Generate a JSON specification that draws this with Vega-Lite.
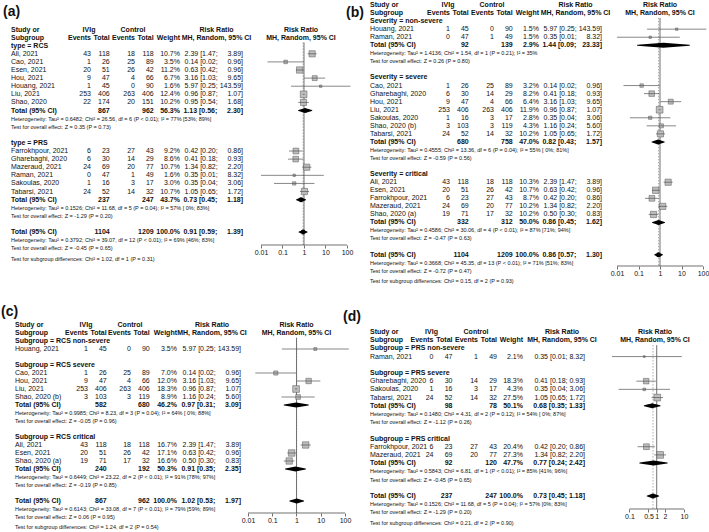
{
"$schema":"https://vega.github.io/schema/vega-lite/v6.json",
"padding":0,
"background":"white",
"config":{"view":{"stroke":null},"legend":{"disable":true},"text":{"font":"Liberation Sans","fontSize":7,"baseline":"middle","color":"#111"},
"axis":{"labelFont":"Liberation Sans","labelFontSize":7,"labelColor":"#111","tickColor":"#333","tickWidth":0.7,"tickSize":3,"labelPadding":0.5,"grid":false,"domain":false,"labelFlush":false,"labelOverlap":false}},
"datasets":{
"cols":[{"col":"e1","cx":2},{"col":"n1","cx":3},{"col":"e2","cx":4},{"col":"n2","cx":5}],
"hdr":[{"c":1,"r":0,"t":"Study or"},{"c":8,"r":0,"t":"IVIg"},{"c":9,"r":0,"t":"Control"},{"c":10,"r":0,"t":"Risk Ratio"},{"c":11,"r":0,"t":"Risk Ratio"},{"c":1,"r":1,"t":"Subgroup"},{"c":2,"r":1,"t":"Events"},{"c":3,"r":1,"t":"Total"},{"c":4,"r":1,"t":"Events"},{"c":5,"r":1,"t":"Total"},{"c":6,"r":1,"t":"Weight"},{"c":10,"r":1,"t":"MH, Random, 95% CI"},{"c":11,"r":1,"t":"MH, Random, 95% CI"}],
"a":[
{"k":"lab","c":0,"r":-2.1,"t":"(a)"},
{"k":"g","r":2,"t":"type = RCS"},
{"k":"s","r":3,"t":"Ali, 2021","e1":43,"n1":118,"e2":18,"n2":118,"w":0.107,"ci":"2.39 [1.47; \u2007\u20073.89]","est":2.39,"lo":1.47,"hi":3.89},
{"k":"s","r":4,"t":"Cao, 2021","e1":1,"n1":26,"e2":25,"n2":89,"w":0.035,"ci":"0.14 [0.02; \u2007\u20070.96]","est":0.14,"lo":0.02,"hi":0.96},
{"k":"s","r":5,"t":"Esen, 2021","e1":20,"n1":51,"e2":26,"n2":42,"w":0.112,"ci":"0.63 [0.42; \u2007\u20070.96]","est":0.63,"lo":0.42,"hi":0.96},
{"k":"s","r":6,"t":"Hou, 2021","e1":9,"n1":47,"e2":4,"n2":66,"w":0.067,"ci":"3.16 [1.03; \u2007\u20079.65]","est":3.16,"lo":1.03,"hi":9.65},
{"k":"s","r":7,"t":"Houang, 2021","e1":1,"n1":45,"e2":0,"n2":90,"w":0.016,"ci":"5.97 [0.25; 143.59]","est":5.97,"lo":0.25,"hi":143.59},
{"k":"s","r":8,"t":"Liu, 2021","e1":253,"n1":406,"e2":263,"n2":406,"w":0.124,"ci":"0.96 [0.87; \u2007\u20071.07]","est":0.96,"lo":0.87,"hi":1.07},
{"k":"s","r":9,"t":"Shao, 2020","e1":22,"n1":174,"e2":20,"n2":151,"w":0.102,"ci":"0.95 [0.54; \u2007\u20071.68]","est":0.95,"lo":0.54,"hi":1.68},
{"k":"t","r":10,"t":"Total (95% CI)","n1":867,"n2":962,"w":0.563,"ci":"1.13 [0.56; \u2007\u20072.30]","est":1.13,"lo":0.56,"hi":2.30},
{"k":"n","r":11,"t":"Heterogeneity: Tau² = 0.6482; Chi² = 26.56, df = 6 (P < 0.01); I² = 77% [53%; 89%]"},
{"k":"n","r":12,"t":"Test for overall effect: Z = 0.35 (P = 0.73)"},
{"k":"g","r":14,"t":"type = PRS"},
{"k":"s","r":15,"t":"Farrokhpour, 2021","e1":6,"n1":23,"e2":27,"n2":43,"w":0.092,"ci":"0.42 [0.20; \u2007\u20070.86]","est":0.42,"lo":0.20,"hi":0.86},
{"k":"s","r":16,"t":"Gharebaghi, 2020","e1":6,"n1":30,"e2":14,"n2":29,"w":0.086,"ci":"0.41 [0.18; \u2007\u20070.93]","est":0.41,"lo":0.18,"hi":0.93},
{"k":"s","r":17,"t":"Mazeraud, 2021","e1":24,"n1":69,"e2":20,"n2":77,"w":0.107,"ci":"1.34 [0.82; \u2007\u20072.20]","est":1.34,"lo":0.82,"hi":2.20},
{"k":"s","r":18,"t":"Raman, 2021","e1":0,"n1":47,"e2":1,"n2":49,"w":0.016,"ci":"0.35 [0.01; \u2007\u20078.32]","est":0.35,"lo":0.01,"hi":8.32},
{"k":"s","r":19,"t":"Sakoulas, 2020","e1":1,"n1":16,"e2":3,"n2":17,"w":0.030,"ci":"0.35 [0.04; \u2007\u20073.06]","est":0.35,"lo":0.04,"hi":3.06},
{"k":"s","r":20,"t":"Tabarsi, 2021","e1":24,"n1":52,"e2":14,"n2":32,"w":0.107,"ci":"1.05 [0.65; \u2007\u20071.72]","est":1.05,"lo":0.65,"hi":1.72},
{"k":"t","r":21,"t":"Total (95% CI)","n1":237,"n2":247,"w":0.437,"ci":"0.73 [0.45; \u2007\u20071.18]","est":0.73,"lo":0.45,"hi":1.18},
{"k":"n","r":22,"t":"Heterogeneity: Tau² = 0.1526; Chi² = 11.68, df = 5 (P = 0.04); I² = 57% [ 0%; 83%]"},
{"k":"n","r":23,"t":"Test for overall effect: Z = -1.29 (P = 0.20)"},
{"k":"t","r":25,"ov":true,"t":"Total (95% CI)","n1":1104,"n2":1209,"w":1,"ci":"0.91 [0.59; \u2007\u20071.39]","est":0.91,"lo":0.59,"hi":1.39},
{"k":"n","r":26,"t":"Heterogeneity: Tau² = 0.3792; Chi² = 39.07, df = 12 (P < 0.01); I² = 69% [46%; 83%]"},
{"k":"n","r":27,"t":"Test for overall effect: Z = -0.45 (P = 0.65)"},
{"k":"n","r":28.3,"t":"Test for subgroup differences: Chi² = 1.02, df = 1 (P = 0.31)"}
],
"b":[
{"k":"lab","c":0,"r":1,"t":"(b)"},
{"k":"g","r":2,"t":"Severity = non-severe"},
{"k":"s","r":3,"t":"Houang, 2021","e1":1,"n1":45,"e2":0,"n2":90,"w":0.015,"ci":"5.97 [0.25; 143.59]","est":5.97,"lo":0.25,"hi":143.59},
{"k":"s","r":4,"t":"Raman, 2021","e1":0,"n1":47,"e2":1,"n2":49,"w":0.015,"ci":"0.35 [0.01; \u2007\u20078.32]","est":0.35,"lo":0.01,"hi":8.32},
{"k":"t","r":5,"t":"Total (95% CI)","n1":92,"n2":139,"w":0.029,"ci":"1.44 [0.09; \u200723.33]","est":1.44,"lo":0.09,"hi":23.33},
{"k":"n","r":6,"t":"Heterogeneity: Tau² = 1.4136; Chi² = 1.54, df = 1 (P = 0.21); I² = 35%"},
{"k":"n","r":7,"t":"Test for overall effect: Z = 0.26 (P = 0.80)"},
{"k":"g","r":9,"t":"Severity = severe"},
{"k":"s","r":10,"t":"Cao, 2021","e1":1,"n1":26,"e2":25,"n2":89,"w":0.032,"ci":"0.14 [0.02; \u2007\u20070.96]","est":0.14,"lo":0.02,"hi":0.96},
{"k":"s","r":11,"t":"Gharebaghi, 2020","e1":6,"n1":30,"e2":14,"n2":29,"w":0.082,"ci":"0.41 [0.18; \u2007\u20070.93]","est":0.41,"lo":0.18,"hi":0.93},
{"k":"s","r":12,"t":"Hou, 2021","e1":9,"n1":47,"e2":4,"n2":66,"w":0.064,"ci":"3.16 [1.03; \u2007\u20079.65]","est":3.16,"lo":1.03,"hi":9.65},
{"k":"s","r":13,"t":"Liu, 2021","e1":253,"n1":406,"e2":263,"n2":406,"w":0.119,"ci":"0.96 [0.87; \u2007\u20071.07]","est":0.96,"lo":0.87,"hi":1.07},
{"k":"s","r":14,"t":"Sakoulas, 2020","e1":1,"n1":16,"e2":3,"n2":17,"w":0.028,"ci":"0.35 [0.04; \u2007\u20073.06]","est":0.35,"lo":0.04,"hi":3.06},
{"k":"s","r":15,"t":"Shao, 2020 (b)","e1":3,"n1":103,"e2":3,"n2":119,"w":0.043,"ci":"1.16 [0.24; \u2007\u20075.60]","est":1.16,"lo":0.24,"hi":5.60},
{"k":"s","r":16,"t":"Tabarsi, 2021","e1":24,"n1":52,"e2":14,"n2":32,"w":0.102,"ci":"1.05 [0.65; \u2007\u20071.72]","est":1.05,"lo":0.65,"hi":1.72},
{"k":"t","r":17,"t":"Total (95% CI)","n1":680,"n2":758,"w":0.470,"ci":"0.82 [0.43; \u2007\u20071.57]","est":0.82,"lo":0.43,"hi":1.57},
{"k":"n","r":18,"t":"Heterogeneity: Tau² = 0.4555; Chi² = 13.36, df = 6 (P = 0.04); I² = 55% [ 0%; 81%]"},
{"k":"n","r":19,"t":"Test for overall effect: Z = -0.59 (P = 0.56)"},
{"k":"g","r":21,"t":"Severity = critical"},
{"k":"s","r":22,"t":"Ali, 2021","e1":43,"n1":118,"e2":18,"n2":118,"w":0.103,"ci":"2.39 [1.47; \u2007\u20073.89]","est":2.39,"lo":1.47,"hi":3.89},
{"k":"s","r":23,"t":"Esen, 2021","e1":20,"n1":51,"e2":26,"n2":42,"w":0.107,"ci":"0.63 [0.42; \u2007\u20070.96]","est":0.63,"lo":0.42,"hi":0.96},
{"k":"s","r":24,"t":"Farrokhpour, 2021","e1":6,"n1":23,"e2":27,"n2":43,"w":0.087,"ci":"0.42 [0.20; \u2007\u20070.86]","est":0.42,"lo":0.20,"hi":0.86},
{"k":"s","r":25,"t":"Mazeraud, 2021","e1":24,"n1":69,"e2":20,"n2":77,"w":0.102,"ci":"1.34 [0.82; \u2007\u20072.20]","est":1.34,"lo":0.82,"hi":2.20},
{"k":"s","r":26,"t":"Shao, 2020 (a)","e1":19,"n1":71,"e2":17,"n2":32,"w":0.102,"ci":"0.50 [0.30; \u2007\u20070.83]","est":0.50,"lo":0.30,"hi":0.83},
{"k":"t","r":27,"t":"Total (95% CI)","n1":332,"n2":312,"w":0.500,"ci":"0.86 [0.45; \u2007\u20071.62]","est":0.86,"lo":0.45,"hi":1.62},
{"k":"n","r":28,"t":"Heterogeneity: Tau² = 0.4586; Chi² = 30.06, df = 4 (P < 0.01); I² = 87% [71%; 94%]"},
{"k":"n","r":29,"t":"Test for overall effect: Z = -0.47 (P = 0.63)"},
{"k":"t","r":31,"ov":true,"t":"Total (95% CI)","n1":1104,"n2":1209,"w":1,"ci":"0.86 [0.57; \u2007\u20071.30]","est":0.86,"lo":0.57,"hi":1.30},
{"k":"n","r":32,"t":"Heterogeneity: Tau² = 0.3668; Chi² = 45.35, df = 13 (P < 0.01); I² = 71% [51%; 83%]"},
{"k":"n","r":33,"t":"Test for overall effect: Z = -0.72 (P = 0.47)"},
{"k":"n","r":34.3,"t":"Test for subgroup differences: Chi² = 0.15, df = 2 (P = 0.93)"}
],
"c":[
{"k":"lab","c":0,"r":-1.6,"t":"(c)"},
{"k":"g","r":2,"t":"Subgroup = RCS non-severe"},
{"k":"s","r":3,"t":"Houang, 2021","e1":1,"n1":45,"e2":0,"n2":90,"w":0.035,"ci":"5.97 [0.25; 143.59]","est":5.97,"lo":0.25,"hi":143.59},
{"k":"g","r":5,"t":"Subgroup = RCS severe"},
{"k":"s","r":6,"t":"Cao, 2021","e1":1,"n1":26,"e2":25,"n2":89,"w":0.070,"ci":"0.14 [0.02; \u2007\u20070.96]","est":0.14,"lo":0.02,"hi":0.96},
{"k":"s","r":7,"t":"Hou, 2021","e1":9,"n1":47,"e2":4,"n2":66,"w":0.120,"ci":"3.16 [1.03; \u2007\u20079.65]","est":3.16,"lo":1.03,"hi":9.65},
{"k":"s","r":8,"t":"Liu, 2021","e1":253,"n1":406,"e2":263,"n2":406,"w":0.183,"ci":"0.96 [0.87; \u2007\u20071.07]","est":0.96,"lo":0.87,"hi":1.07},
{"k":"s","r":9,"t":"Shao, 2020 (b)","e1":3,"n1":103,"e2":3,"n2":119,"w":0.089,"ci":"1.16 [0.24; \u2007\u20075.60]","est":1.16,"lo":0.24,"hi":5.60},
{"k":"t","r":10,"t":"Total (95% CI)","n1":582,"n2":680,"w":0.462,"ci":"0.97 [0.31; \u2007\u20073.09]","est":0.97,"lo":0.31,"hi":3.09},
{"k":"n","r":11,"t":"Heterogeneity: Tau² = 0.9985; Chi² = 8.23, df = 3 (P = 0.04); I² = 64% [ 0%; 88%]"},
{"k":"n","r":12,"t":"Test for overall effect: Z = -0.05 (P = 0.96)"},
{"k":"g","r":14,"t":"Subgroup = RCS critical"},
{"k":"s","r":15,"t":"Ali, 2021","e1":43,"n1":118,"e2":18,"n2":118,"w":0.167,"ci":"2.39 [1.47; \u2007\u20073.89]","est":2.39,"lo":1.47,"hi":3.89},
{"k":"s","r":16,"t":"Esen, 2021","e1":20,"n1":51,"e2":26,"n2":42,"w":0.171,"ci":"0.63 [0.42; \u2007\u20070.96]","est":0.63,"lo":0.42,"hi":0.96},
{"k":"s","r":17,"t":"Shao, 2020 (a)","e1":19,"n1":71,"e2":17,"n2":32,"w":0.166,"ci":"0.50 [0.30; \u2007\u20070.83]","est":0.50,"lo":0.30,"hi":0.83},
{"k":"t","r":18,"t":"Total (95% CI)","n1":240,"n2":192,"w":0.503,"ci":"0.91 [0.35; \u2007\u20072.35]","est":0.91,"lo":0.35,"hi":2.35},
{"k":"n","r":19,"t":"Heterogeneity: Tau² = 0.6449; Chi² = 23.22, df = 2 (P < 0.01); I² = 91% [78%; 97%]"},
{"k":"n","r":20,"t":"Test for overall effect: Z = -0.19 (P = 0.85)"},
{"k":"t","r":22,"ov":true,"t":"Total (95% CI)","n1":867,"n2":962,"w":1,"ci":"1.02 [0.53; \u2007\u20071.97]","est":1.02,"lo":0.53,"hi":1.97},
{"k":"n","r":23,"t":"Heterogeneity: Tau² = 0.6143; Chi² = 33.08, df = 7 (P < 0.01); I² = 79% [59%; 89%]"},
{"k":"n","r":24,"t":"Test for overall effect: Z = 0.06 (P = 0.95)"},
{"k":"n","r":25.3,"t":"Test for subgroup differences: Chi² = 1.24, df = 2 (P = 0.54)"}
],
"d":[
{"k":"lab","c":0,"r":-1.83,"t":"(d)"},
{"k":"g","r":2,"t":"Subgroup = PRS non-severe"},
{"k":"s","r":3,"t":"Raman, 2021","e1":0,"n1":47,"e2":1,"n2":49,"w":0.021,"ci":"0.35 [0.01; 8.32]","est":0.35,"lo":0.01,"hi":8.32},
{"k":"g","r":5,"t":"Subgroup = PRS severe"},
{"k":"s","r":6,"t":"Gharebaghi, 2020","e1":6,"n1":30,"e2":14,"n2":29,"w":0.183,"ci":"0.41 [0.18; 0.93]","est":0.41,"lo":0.18,"hi":0.93},
{"k":"s","r":7,"t":"Sakoulas, 2020","e1":1,"n1":16,"e2":3,"n2":17,"w":0.043,"ci":"0.35 [0.04; 3.06]","est":0.35,"lo":0.04,"hi":3.06},
{"k":"s","r":8,"t":"Tabarsi, 2021","e1":24,"n1":52,"e2":14,"n2":32,"w":0.275,"ci":"1.05 [0.65; 1.72]","est":1.05,"lo":0.65,"hi":1.72},
{"k":"t","r":9,"t":"Total (95% CI)","n1":98,"n2":78,"w":0.501,"ci":"0.68 [0.35; 1.33]","est":0.68,"lo":0.35,"hi":1.33},
{"k":"n","r":10,"t":"Heterogeneity: Tau² = 0.1480; Chi² = 4.31, df = 2 (P = 0.12); I² = 54% [ 0%; 87%]"},
{"k":"n","r":11,"t":"Test for overall effect: Z = -1.12 (P = 0.26)"},
{"k":"g","r":13,"t":"Subgroup = PRS critical"},
{"k":"s","r":14,"t":"Farrokhpour, 2021","e1":6,"n1":23,"e2":27,"n2":43,"w":0.204,"ci":"0.42 [0.20; 0.86]","est":0.42,"lo":0.20,"hi":0.86},
{"k":"s","r":15,"t":"Mazeraud, 2021","e1":24,"n1":69,"e2":20,"n2":77,"w":0.273,"ci":"1.34 [0.82; 2.20]","est":1.34,"lo":0.82,"hi":2.20},
{"k":"t","r":16,"t":"Total (95% CI)","n1":92,"n2":120,"w":0.477,"ci":"0.77 [0.24; 2.42]","est":0.77,"lo":0.24,"hi":2.42},
{"k":"n","r":17,"t":"Heterogeneity: Tau² = 0.5843; Chi² = 6.81, df = 1 (P < 0.01); I² = 85% [41%; 96%]"},
{"k":"n","r":18,"t":"Test for overall effect: Z = -0.45 (P = 0.65)"},
{"k":"t","r":20,"ov":true,"t":"Total (95% CI)","n1":237,"n2":247,"w":1,"ci":"0.73 [0.45; 1.18]","est":0.73,"lo":0.45,"hi":1.18},
{"k":"n","r":21,"t":"Heterogeneity: Tau² = 0.1526; Chi² = 11.68, df = 5 (P = 0.04); I² = 57% [0%; 83%]"},
{"k":"n","r":22,"t":"Test for overall effect: Z = -1.29 (P = 0.20)"},
{"k":"n","r":23.3,"t":"Test for subgroup differences: Chi² = 0.21, df = 2 (P = 0.90)"}
]
},
"columns":4,
"spacing":0,
"bounds":"flush",
"concat":[
{"width":248,"height":296,"data":{"name":"a"},
"encoding":{"y":{"field":"r","type":"quantitative","scale":{"domain":[0,28],"range":[29.5,256.3],"nice":false,"zero":false},"axis":null}},
"layer":[
{"transform":[{"filter":"datum.k=='lab'"}],"mark":{"type":"text","align":"left","fontWeight":"bold","fontSize":14},"encoding":{"x":{"field":"c","type":"quantitative","scale":{"domain":[0,1,2,3,4,5,6,7,8,9,10,11],"range":[3,11,91,109.7,135,153.7,180,243,89,133,216.5,301],"nice":false,"zero":false},"axis":null},"text":{"field":"t","type":"nominal"}}},
{"data":{"name":"hdr"},"transform":[{"filter":"datum.c==1"}],"mark":{"type":"text","align":"left","fontWeight":"bold"},"encoding":{"x":{"field":"c","type":"quantitative"},"text":{"field":"t","type":"nominal"}}},
{"data":{"name":"hdr"},"transform":[{"filter":"datum.c>=2 && datum.c<=7"}],"mark":{"type":"text","align":"right","fontWeight":"bold"},"encoding":{"x":{"field":"c","type":"quantitative"},"text":{"field":"t","type":"nominal"}}},
{"data":{"name":"hdr"},"transform":[{"filter":"datum.c>=8"}],"mark":{"type":"text","align":"center","fontWeight":"bold"},"encoding":{"x":{"field":"c","type":"quantitative"},"text":{"field":"t","type":"nominal"}}},
{"transform":[{"filter":"datum.k=='s'"}],"mark":{"type":"text","align":"left"},"encoding":{"x":{"datum":1,"type":"quantitative"},"text":{"field":"t","type":"nominal"}}},
{"transform":[{"filter":"datum.k=='g' || datum.k=='t'"}],"mark":{"type":"text","align":"left","fontWeight":"bold"},"encoding":{"x":{"datum":1,"type":"quantitative"},"text":{"field":"t","type":"nominal"}}},
{"transform":[{"filter":"datum.k=='n'"}],"mark":{"type":"text","align":"left","fontSize":5.5},"encoding":{"x":{"datum":1,"type":"quantitative"},"text":{"field":"t","type":"nominal"}}},
{"transform":[{"filter":"datum.k=='s'"},{"fold":["e1","n1","e2","n2"],"as":["col","val"]},{"lookup":"col","from":{"data":{"name":"cols"},"key":"col","fields":["cx"]}}],"mark":{"type":"text","align":"right"},"encoding":{"x":{"field":"cx","type":"quantitative"},"text":{"field":"val","type":"nominal"}}},
{"transform":[{"filter":"datum.k=='t'"},{"fold":["n1","n2"],"as":["col","val"]},{"lookup":"col","from":{"data":{"name":"cols"},"key":"col","fields":["cx"]}}],"mark":{"type":"text","align":"right","fontWeight":"bold"},"encoding":{"x":{"field":"cx","type":"quantitative"},"text":{"field":"val","type":"nominal"}}},
{"transform":[{"filter":"datum.k=='s'"}],"mark":{"type":"text","align":"right"},"encoding":{"x":{"datum":6,"type":"quantitative"},"text":{"field":"w","type":"quantitative","format":".1%"}}},
{"transform":[{"filter":"datum.k=='t'"}],"mark":{"type":"text","align":"right","fontWeight":"bold"},"encoding":{"x":{"datum":6,"type":"quantitative"},"text":{"field":"w","type":"quantitative","format":".1%"}}},
{"transform":[{"filter":"datum.k=='s'"}],"mark":{"type":"text","align":"right"},"encoding":{"x":{"datum":7,"type":"quantitative"},"text":{"field":"ci","type":"nominal"}}},
{"transform":[{"filter":"datum.k=='t'"}],"mark":{"type":"text","align":"right","fontWeight":"bold"},"encoding":{"x":{"datum":7,"type":"quantitative"},"text":{"field":"ci","type":"nominal"}}}
]},
{"width":107,"height":245,"data":{"name":"a"},
"resolve":{"scale":{"size":"independent"}},
"layer":[
{"transform":[{"filter":"datum.ov"}],"mark":{"type":"rule","color":"#333","strokeWidth":0.7},"encoding":{"x":{"datum":1,"type":"quantitative","scale":{"type":"log","domain":[0.002485,235.6],"clamp":true,"nice":false},"axis":{"values":[0.01,0.1,1,10,100],"format":"~g","title":null}},"y":{"datum":1.6,"type":"quantitative","scale":{"domain":[-3.642,26.6],"reverse":true,"nice":false,"zero":false},"axis":null},"y2":{"datum":26.6}}},
{"transform":[{"filter":"datum.ov"}],"mark":{"type":"rule","color":"#777","strokeWidth":0.6,"strokeDash":[1.5,1.5]},"encoding":{"x":{"field":"est","type":"quantitative","scale":{"type":"log","domain":[0.002485,235.6],"clamp":true,"nice":false},"axis":{"values":[0.01,0.1,1,10,100],"format":"~g","title":null}},"y":{"datum":1.6,"type":"quantitative","scale":{"domain":[-3.642,26.6],"reverse":true,"nice":false,"zero":false},"axis":null},"y2":{"datum":26.6}}},
{"transform":[{"filter":"datum.k=='s'"}],"mark":{"type":"point","shape":"square","filled":true,"fill":"#bdbdbd","stroke":"#555","strokeWidth":0.5,"opacity":1},"encoding":{"x":{"field":"est","type":"quantitative","scale":{"type":"log","domain":[0.002485,235.6],"clamp":true,"nice":false},"axis":{"values":[0.01,0.1,1,10,100],"format":"~g","title":null}},"y":{"field":"r","type":"quantitative","scale":{"domain":[-3.642,26.6],"reverse":true,"nice":false,"zero":false},"axis":null},"size":{"field":"w","type":"quantitative","scale":{"domain":[0,0.124],"range":[0,45]},"legend":null}}},
{"transform":[{"filter":"datum.k=='s'"}],"mark":{"type":"rule","color":"#555","strokeWidth":0.7},"encoding":{"x":{"field":"lo","type":"quantitative","scale":{"type":"log","domain":[0.002485,235.6],"clamp":true,"nice":false},"axis":{"values":[0.01,0.1,1,10,100],"format":"~g","title":null}},"x2":{"field":"hi"},"y":{"field":"r","type":"quantitative","scale":{"domain":[-3.642,26.6],"reverse":true,"nice":false,"zero":false},"axis":null}}},
{"transform":[{"filter":"datum.k=='t'"},{"fold":["lo","est","hi"],"as":["p","xv"]},{"window":[{"op":"row_number","as":"vi"}],"groupby":["r"],"sort":[{"field":"xv"}]}],"mark":{"type":"trail","color":"#000"},"encoding":{"x":{"field":"xv","type":"quantitative","scale":{"type":"log","domain":[0.002485,235.6],"clamp":true,"nice":false},"axis":{"values":[0.01,0.1,1,10,100],"format":"~g","title":null}},"y":{"field":"r","type":"quantitative","scale":{"domain":[-3.642,26.6],"reverse":true,"nice":false,"zero":false},"axis":null},"size":{"field":"vi","type":"quantitative","scale":{"domain":[1,2,3],"range":[0,5,0],"zero":false},"legend":null},"detail":{"field":"r","type":"nominal"},"order":{"field":"vi","type":"quantitative"}}},
{"transform":[{"filter":"datum.ov"}],"mark":{"type":"rule","color":"#333","strokeWidth":0.7},"encoding":{"x":{"datum":0.01,"type":"quantitative","scale":{"type":"log","domain":[0.002485,235.6],"clamp":true,"nice":false},"axis":{"values":[0.01,0.1,1,10,100],"format":"~g","title":null}},"x2":{"datum":100},"y":{"datum":26.6,"type":"quantitative","scale":{"domain":[-3.642,26.6],"reverse":true,"nice":false,"zero":false},"axis":null}}}
]},
{"width":257,"height":296,"data":{"name":"b"},
"encoding":{"y":{"field":"r","type":"quantitative","scale":{"domain":[0,34],"range":[5,278.7],"nice":false,"zero":false},"axis":null}},
"layer":[
{"transform":[{"filter":"datum.k=='lab'"}],"mark":{"type":"text","align":"left","fontWeight":"bold","fontSize":14},"encoding":{"x":{"field":"c","type":"quantitative","scale":{"domain":[0,1,2,3,4,5,6,7,8,9,10,11],"range":[-9,15,95,113.7,139,157.7,184,247,93,137,220.5,305],"nice":false,"zero":false},"axis":null},"text":{"field":"t","type":"nominal"}}},
{"data":{"name":"hdr"},"transform":[{"filter":"datum.c==1"}],"mark":{"type":"text","align":"left","fontWeight":"bold"},"encoding":{"x":{"field":"c","type":"quantitative"},"text":{"field":"t","type":"nominal"}}},
{"data":{"name":"hdr"},"transform":[{"filter":"datum.c>=2 && datum.c<=7"}],"mark":{"type":"text","align":"right","fontWeight":"bold"},"encoding":{"x":{"field":"c","type":"quantitative"},"text":{"field":"t","type":"nominal"}}},
{"data":{"name":"hdr"},"transform":[{"filter":"datum.c>=8"}],"mark":{"type":"text","align":"center","fontWeight":"bold"},"encoding":{"x":{"field":"c","type":"quantitative"},"text":{"field":"t","type":"nominal"}}},
{"transform":[{"filter":"datum.k=='s'"}],"mark":{"type":"text","align":"left"},"encoding":{"x":{"datum":1,"type":"quantitative"},"text":{"field":"t","type":"nominal"}}},
{"transform":[{"filter":"datum.k=='g' || datum.k=='t'"}],"mark":{"type":"text","align":"left","fontWeight":"bold"},"encoding":{"x":{"datum":1,"type":"quantitative"},"text":{"field":"t","type":"nominal"}}},
{"transform":[{"filter":"datum.k=='n'"}],"mark":{"type":"text","align":"left","fontSize":5.5},"encoding":{"x":{"datum":1,"type":"quantitative"},"text":{"field":"t","type":"nominal"}}},
{"transform":[{"filter":"datum.k=='s'"},{"fold":["e1","n1","e2","n2"],"as":["col","val"]},{"lookup":"col","from":{"data":{"name":"cols"},"key":"col","fields":["cx"]}}],"mark":{"type":"text","align":"right"},"encoding":{"x":{"field":"cx","type":"quantitative"},"text":{"field":"val","type":"nominal"}}},
{"transform":[{"filter":"datum.k=='t'"},{"fold":["n1","n2"],"as":["col","val"]},{"lookup":"col","from":{"data":{"name":"cols"},"key":"col","fields":["cx"]}}],"mark":{"type":"text","align":"right","fontWeight":"bold"},"encoding":{"x":{"field":"cx","type":"quantitative"},"text":{"field":"val","type":"nominal"}}},
{"transform":[{"filter":"datum.k=='s'"}],"mark":{"type":"text","align":"right"},"encoding":{"x":{"datum":6,"type":"quantitative"},"text":{"field":"w","type":"quantitative","format":".1%"}}},
{"transform":[{"filter":"datum.k=='t'"}],"mark":{"type":"text","align":"right","fontWeight":"bold"},"encoding":{"x":{"datum":6,"type":"quantitative"},"text":{"field":"w","type":"quantitative","format":".1%"}}},
{"transform":[{"filter":"datum.k=='s'"}],"mark":{"type":"text","align":"right"},"encoding":{"x":{"datum":7,"type":"quantitative"},"text":{"field":"ci","type":"nominal"}}},
{"transform":[{"filter":"datum.k=='t'"}],"mark":{"type":"text","align":"right","fontWeight":"bold"},"encoding":{"x":{"datum":7,"type":"quantitative"},"text":{"field":"ci","type":"nominal"}}}
]},
{"width":97,"height":266,"data":{"name":"b"},
"resolve":{"scale":{"size":"independent"}},
"layer":[
{"transform":[{"filter":"datum.ov"}],"mark":{"type":"rule","color":"#333","strokeWidth":0.7},"encoding":{"x":{"datum":1,"type":"quantitative","scale":{"type":"log","domain":[0.005854,190.1],"clamp":true,"nice":false},"axis":{"values":[0.01,0.1,1,10,100],"format":"~g","title":null}},"y":{"datum":1.6,"type":"quantitative","scale":{"domain":[-0.621,32.4],"reverse":true,"nice":false,"zero":false},"axis":null},"y2":{"datum":32.4}}},
{"transform":[{"filter":"datum.ov"}],"mark":{"type":"rule","color":"#777","strokeWidth":0.6,"strokeDash":[1.5,1.5]},"encoding":{"x":{"field":"est","type":"quantitative","scale":{"type":"log","domain":[0.005854,190.1],"clamp":true,"nice":false},"axis":{"values":[0.01,0.1,1,10,100],"format":"~g","title":null}},"y":{"datum":1.6,"type":"quantitative","scale":{"domain":[-0.621,32.4],"reverse":true,"nice":false,"zero":false},"axis":null},"y2":{"datum":32.4}}},
{"transform":[{"filter":"datum.k=='s'"}],"mark":{"type":"point","shape":"square","filled":true,"fill":"#bdbdbd","stroke":"#555","strokeWidth":0.5,"opacity":1},"encoding":{"x":{"field":"est","type":"quantitative","scale":{"type":"log","domain":[0.005854,190.1],"clamp":true,"nice":false},"axis":{"values":[0.01,0.1,1,10,100],"format":"~g","title":null}},"y":{"field":"r","type":"quantitative","scale":{"domain":[-0.621,32.4],"reverse":true,"nice":false,"zero":false},"axis":null},"size":{"field":"w","type":"quantitative","scale":{"domain":[0,0.119],"range":[0,45]},"legend":null}}},
{"transform":[{"filter":"datum.k=='s'"}],"mark":{"type":"rule","color":"#555","strokeWidth":0.7},"encoding":{"x":{"field":"lo","type":"quantitative","scale":{"type":"log","domain":[0.005854,190.1],"clamp":true,"nice":false},"axis":{"values":[0.01,0.1,1,10,100],"format":"~g","title":null}},"x2":{"field":"hi"},"y":{"field":"r","type":"quantitative","scale":{"domain":[-0.621,32.4],"reverse":true,"nice":false,"zero":false},"axis":null}}},
{"transform":[{"filter":"datum.k=='t'"},{"fold":["lo","est","hi"],"as":["p","xv"]},{"window":[{"op":"row_number","as":"vi"}],"groupby":["r"],"sort":[{"field":"xv"}]}],"mark":{"type":"trail","color":"#000"},"encoding":{"x":{"field":"xv","type":"quantitative","scale":{"type":"log","domain":[0.005854,190.1],"clamp":true,"nice":false},"axis":{"values":[0.01,0.1,1,10,100],"format":"~g","title":null}},"y":{"field":"r","type":"quantitative","scale":{"domain":[-0.621,32.4],"reverse":true,"nice":false,"zero":false},"axis":null},"size":{"field":"vi","type":"quantitative","scale":{"domain":[1,2,3],"range":[0,5,0],"zero":false},"legend":null},"detail":{"field":"r","type":"nominal"},"order":{"field":"vi","type":"quantitative"}}},
{"transform":[{"filter":"datum.ov"}],"mark":{"type":"rule","color":"#333","strokeWidth":0.7},"encoding":{"x":{"datum":0.01,"type":"quantitative","scale":{"type":"log","domain":[0.005854,190.1],"clamp":true,"nice":false},"axis":{"values":[0.01,0.1,1,10,100],"format":"~g","title":null}},"x2":{"datum":100},"y":{"datum":32.4,"type":"quantitative","scale":{"domain":[-0.621,32.4],"reverse":true,"nice":false,"zero":false},"axis":null}}}
]},
{"width":248,"height":236,"data":{"name":"c"},
"encoding":{"y":{"field":"r","type":"quantitative","scale":{"domain":[0,25],"range":[29,229],"nice":false,"zero":false},"axis":null}},
"layer":[
{"transform":[{"filter":"datum.k=='lab'"}],"mark":{"type":"text","align":"left","fontWeight":"bold","fontSize":14},"encoding":{"x":{"field":"c","type":"quantitative","scale":{"domain":[0,1,2,3,4,5,6,7,8,9,10,11],"range":[1,15,88,106.7,131,149.7,177,241,86,130,212,296.5],"nice":false,"zero":false},"axis":null},"text":{"field":"t","type":"nominal"}}},
{"data":{"name":"hdr"},"transform":[{"filter":"datum.c==1"}],"mark":{"type":"text","align":"left","fontWeight":"bold"},"encoding":{"x":{"field":"c","type":"quantitative"},"text":{"field":"t","type":"nominal"}}},
{"data":{"name":"hdr"},"transform":[{"filter":"datum.c>=2 && datum.c<=7"}],"mark":{"type":"text","align":"right","fontWeight":"bold"},"encoding":{"x":{"field":"c","type":"quantitative"},"text":{"field":"t","type":"nominal"}}},
{"data":{"name":"hdr"},"transform":[{"filter":"datum.c>=8"}],"mark":{"type":"text","align":"center","fontWeight":"bold"},"encoding":{"x":{"field":"c","type":"quantitative"},"text":{"field":"t","type":"nominal"}}},
{"transform":[{"filter":"datum.k=='s'"}],"mark":{"type":"text","align":"left"},"encoding":{"x":{"datum":1,"type":"quantitative"},"text":{"field":"t","type":"nominal"}}},
{"transform":[{"filter":"datum.k=='g' || datum.k=='t'"}],"mark":{"type":"text","align":"left","fontWeight":"bold"},"encoding":{"x":{"datum":1,"type":"quantitative"},"text":{"field":"t","type":"nominal"}}},
{"transform":[{"filter":"datum.k=='n'"}],"mark":{"type":"text","align":"left","fontSize":5.5},"encoding":{"x":{"datum":1,"type":"quantitative"},"text":{"field":"t","type":"nominal"}}},
{"transform":[{"filter":"datum.k=='s'"},{"fold":["e1","n1","e2","n2"],"as":["col","val"]},{"lookup":"col","from":{"data":{"name":"cols"},"key":"col","fields":["cx"]}}],"mark":{"type":"text","align":"right"},"encoding":{"x":{"field":"cx","type":"quantitative"},"text":{"field":"val","type":"nominal"}}},
{"transform":[{"filter":"datum.k=='t'"},{"fold":["n1","n2"],"as":["col","val"]},{"lookup":"col","from":{"data":{"name":"cols"},"key":"col","fields":["cx"]}}],"mark":{"type":"text","align":"right","fontWeight":"bold"},"encoding":{"x":{"field":"cx","type":"quantitative"},"text":{"field":"val","type":"nominal"}}},
{"transform":[{"filter":"datum.k=='s'"}],"mark":{"type":"text","align":"right"},"encoding":{"x":{"datum":6,"type":"quantitative"},"text":{"field":"w","type":"quantitative","format":".1%"}}},
{"transform":[{"filter":"datum.k=='t'"}],"mark":{"type":"text","align":"right","fontWeight":"bold"},"encoding":{"x":{"datum":6,"type":"quantitative"},"text":{"field":"w","type":"quantitative","format":".1%"}}},
{"transform":[{"filter":"datum.k=='s'"}],"mark":{"type":"text","align":"right"},"encoding":{"x":{"datum":7,"type":"quantitative"},"text":{"field":"ci","type":"nominal"}}},
{"transform":[{"filter":"datum.k=='t'"}],"mark":{"type":"text","align":"right","fontWeight":"bold"},"encoding":{"x":{"datum":7,"type":"quantitative"},"text":{"field":"ci","type":"nominal"}}}
]},
{"width":107,"height":217,"data":{"name":"c"},
"resolve":{"scale":{"size":"independent"}},
"layer":[
{"transform":[{"filter":"datum.ov"}],"mark":{"type":"rule","color":"#333","strokeWidth":0.7},"encoding":{"x":{"datum":1,"type":"quantitative","scale":{"type":"log","domain":[0.01,258.5],"clamp":true,"nice":false},"axis":{"values":[0.01,0.1,1,10,100],"format":"~g","title":null}},"y":{"datum":1.6,"type":"quantitative","scale":{"domain":[-3.625,23.5],"reverse":true,"nice":false,"zero":false},"axis":null},"y2":{"datum":23.5}}},
{"transform":[{"filter":"datum.ov"}],"mark":{"type":"rule","color":"#777","strokeWidth":0.6,"strokeDash":[1.5,1.5]},"encoding":{"x":{"field":"est","type":"quantitative","scale":{"type":"log","domain":[0.01,258.5],"clamp":true,"nice":false},"axis":{"values":[0.01,0.1,1,10,100],"format":"~g","title":null}},"y":{"datum":1.6,"type":"quantitative","scale":{"domain":[-3.625,23.5],"reverse":true,"nice":false,"zero":false},"axis":null},"y2":{"datum":23.5}}},
{"transform":[{"filter":"datum.k=='s'"}],"mark":{"type":"point","shape":"square","filled":true,"fill":"#bdbdbd","stroke":"#555","strokeWidth":0.5,"opacity":1},"encoding":{"x":{"field":"est","type":"quantitative","scale":{"type":"log","domain":[0.01,258.5],"clamp":true,"nice":false},"axis":{"values":[0.01,0.1,1,10,100],"format":"~g","title":null}},"y":{"field":"r","type":"quantitative","scale":{"domain":[-3.625,23.5],"reverse":true,"nice":false,"zero":false},"axis":null},"size":{"field":"w","type":"quantitative","scale":{"domain":[0,0.183],"range":[0,45]},"legend":null}}},
{"transform":[{"filter":"datum.k=='s'"}],"mark":{"type":"rule","color":"#555","strokeWidth":0.7},"encoding":{"x":{"field":"lo","type":"quantitative","scale":{"type":"log","domain":[0.01,258.5],"clamp":true,"nice":false},"axis":{"values":[0.01,0.1,1,10,100],"format":"~g","title":null}},"x2":{"field":"hi"},"y":{"field":"r","type":"quantitative","scale":{"domain":[-3.625,23.5],"reverse":true,"nice":false,"zero":false},"axis":null}}},
{"transform":[{"filter":"datum.k=='t'"},{"fold":["lo","est","hi"],"as":["p","xv"]},{"window":[{"op":"row_number","as":"vi"}],"groupby":["r"],"sort":[{"field":"xv"}]}],"mark":{"type":"trail","color":"#000"},"encoding":{"x":{"field":"xv","type":"quantitative","scale":{"type":"log","domain":[0.01,258.5],"clamp":true,"nice":false},"axis":{"values":[0.01,0.1,1,10,100],"format":"~g","title":null}},"y":{"field":"r","type":"quantitative","scale":{"domain":[-3.625,23.5],"reverse":true,"nice":false,"zero":false},"axis":null},"size":{"field":"vi","type":"quantitative","scale":{"domain":[1,2,3],"range":[0,5,0],"zero":false},"legend":null},"detail":{"field":"r","type":"nominal"},"order":{"field":"vi","type":"quantitative"}}},
{"transform":[{"filter":"datum.ov"}],"mark":{"type":"rule","color":"#333","strokeWidth":0.7},"encoding":{"x":{"datum":0.01,"type":"quantitative","scale":{"type":"log","domain":[0.01,258.5],"clamp":true,"nice":false},"axis":{"values":[0.01,0.1,1,10,100],"format":"~g","title":null}},"x2":{"datum":100},"y":{"datum":23.5,"type":"quantitative","scale":{"domain":[-3.625,23.5],"reverse":true,"nice":false,"zero":false},"axis":null}}}
]},
{"width":257,"height":236,"data":{"name":"d"},
"encoding":{"y":{"field":"r","type":"quantitative","scale":{"domain":[0,23],"range":[36,224.6],"nice":false,"zero":false},"axis":null}},
"layer":[
{"transform":[{"filter":"datum.k=='lab'"}],"mark":{"type":"text","align":"left","fontWeight":"bold","fontSize":14},"encoding":{"x":{"field":"c","type":"quantitative","scale":{"domain":[0,1,2,3,4,5,6,7,8,9,10,11],"range":[-12,15,78.5,97.5,123,142,168,230,76.5,121,207,300],"nice":false,"zero":false},"axis":null},"text":{"field":"t","type":"nominal"}}},
{"data":{"name":"hdr"},"transform":[{"filter":"datum.c==1"}],"mark":{"type":"text","align":"left","fontWeight":"bold"},"encoding":{"x":{"field":"c","type":"quantitative"},"text":{"field":"t","type":"nominal"}}},
{"data":{"name":"hdr"},"transform":[{"filter":"datum.c>=2 && datum.c<=7"}],"mark":{"type":"text","align":"right","fontWeight":"bold"},"encoding":{"x":{"field":"c","type":"quantitative"},"text":{"field":"t","type":"nominal"}}},
{"data":{"name":"hdr"},"transform":[{"filter":"datum.c>=8"}],"mark":{"type":"text","align":"center","fontWeight":"bold"},"encoding":{"x":{"field":"c","type":"quantitative"},"text":{"field":"t","type":"nominal"}}},
{"transform":[{"filter":"datum.k=='s'"}],"mark":{"type":"text","align":"left"},"encoding":{"x":{"datum":1,"type":"quantitative"},"text":{"field":"t","type":"nominal"}}},
{"transform":[{"filter":"datum.k=='g' || datum.k=='t'"}],"mark":{"type":"text","align":"left","fontWeight":"bold"},"encoding":{"x":{"datum":1,"type":"quantitative"},"text":{"field":"t","type":"nominal"}}},
{"transform":[{"filter":"datum.k=='n'"}],"mark":{"type":"text","align":"left","fontSize":5.5},"encoding":{"x":{"datum":1,"type":"quantitative"},"text":{"field":"t","type":"nominal"}}},
{"transform":[{"filter":"datum.k=='s'"},{"fold":["e1","n1","e2","n2"],"as":["col","val"]},{"lookup":"col","from":{"data":{"name":"cols"},"key":"col","fields":["cx"]}}],"mark":{"type":"text","align":"right"},"encoding":{"x":{"field":"cx","type":"quantitative"},"text":{"field":"val","type":"nominal"}}},
{"transform":[{"filter":"datum.k=='t'"},{"fold":["n1","n2"],"as":["col","val"]},{"lookup":"col","from":{"data":{"name":"cols"},"key":"col","fields":["cx"]}}],"mark":{"type":"text","align":"right","fontWeight":"bold"},"encoding":{"x":{"field":"cx","type":"quantitative"},"text":{"field":"val","type":"nominal"}}},
{"transform":[{"filter":"datum.k=='s'"}],"mark":{"type":"text","align":"right"},"encoding":{"x":{"datum":6,"type":"quantitative"},"text":{"field":"w","type":"quantitative","format":".1%"}}},
{"transform":[{"filter":"datum.k=='t'"}],"mark":{"type":"text","align":"right","fontWeight":"bold"},"encoding":{"x":{"datum":6,"type":"quantitative"},"text":{"field":"w","type":"quantitative","format":".1%"}}},
{"transform":[{"filter":"datum.k=='s'"}],"mark":{"type":"text","align":"right"},"encoding":{"x":{"datum":7,"type":"quantitative"},"text":{"field":"ci","type":"nominal"}}},
{"transform":[{"filter":"datum.k=='t'"}],"mark":{"type":"text","align":"right","fontWeight":"bold"},"encoding":{"x":{"datum":7,"type":"quantitative"},"text":{"field":"ci","type":"nominal"}}}
]},
{"width":97,"height":213,"data":{"name":"d"},
"resolve":{"scale":{"size":"independent"}},
"layer":[
{"transform":[{"filter":"datum.ov"}],"mark":{"type":"rule","color":"#333","strokeWidth":0.7},"encoding":{"x":{"datum":1,"type":"quantitative","scale":{"type":"log","domain":[0.023,82.4],"clamp":true,"nice":false},"axis":{"values":[0.1,0.5,1,2,10],"format":"~g","title":null}},"y":{"datum":1.6,"type":"quantitative","scale":{"domain":[-4.39,21.6],"reverse":true,"nice":false,"zero":false},"axis":null},"y2":{"datum":21.6}}},
{"transform":[{"filter":"datum.ov"}],"mark":{"type":"rule","color":"#777","strokeWidth":0.6,"strokeDash":[1.5,1.5]},"encoding":{"x":{"field":"est","type":"quantitative","scale":{"type":"log","domain":[0.023,82.4],"clamp":true,"nice":false},"axis":{"values":[0.1,0.5,1,2,10],"format":"~g","title":null}},"y":{"datum":1.6,"type":"quantitative","scale":{"domain":[-4.39,21.6],"reverse":true,"nice":false,"zero":false},"axis":null},"y2":{"datum":21.6}}},
{"transform":[{"filter":"datum.k=='s'"}],"mark":{"type":"point","shape":"square","filled":true,"fill":"#bdbdbd","stroke":"#555","strokeWidth":0.5,"opacity":1},"encoding":{"x":{"field":"est","type":"quantitative","scale":{"type":"log","domain":[0.023,82.4],"clamp":true,"nice":false},"axis":{"values":[0.1,0.5,1,2,10],"format":"~g","title":null}},"y":{"field":"r","type":"quantitative","scale":{"domain":[-4.39,21.6],"reverse":true,"nice":false,"zero":false},"axis":null},"size":{"field":"w","type":"quantitative","scale":{"domain":[0,0.275],"range":[0,45]},"legend":null}}},
{"transform":[{"filter":"datum.k=='s'"}],"mark":{"type":"rule","color":"#555","strokeWidth":0.7},"encoding":{"x":{"field":"lo","type":"quantitative","scale":{"type":"log","domain":[0.023,82.4],"clamp":true,"nice":false},"axis":{"values":[0.1,0.5,1,2,10],"format":"~g","title":null}},"x2":{"field":"hi"},"y":{"field":"r","type":"quantitative","scale":{"domain":[-4.39,21.6],"reverse":true,"nice":false,"zero":false},"axis":null}}},
{"transform":[{"filter":"datum.k=='t'"},{"fold":["lo","est","hi"],"as":["p","xv"]},{"window":[{"op":"row_number","as":"vi"}],"groupby":["r"],"sort":[{"field":"xv"}]}],"mark":{"type":"trail","color":"#000"},"encoding":{"x":{"field":"xv","type":"quantitative","scale":{"type":"log","domain":[0.023,82.4],"clamp":true,"nice":false},"axis":{"values":[0.1,0.5,1,2,10],"format":"~g","title":null}},"y":{"field":"r","type":"quantitative","scale":{"domain":[-4.39,21.6],"reverse":true,"nice":false,"zero":false},"axis":null},"size":{"field":"vi","type":"quantitative","scale":{"domain":[1,2,3],"range":[0,5,0],"zero":false},"legend":null},"detail":{"field":"r","type":"nominal"},"order":{"field":"vi","type":"quantitative"}}},
{"transform":[{"filter":"datum.ov"}],"mark":{"type":"rule","color":"#333","strokeWidth":0.7},"encoding":{"x":{"datum":0.1,"type":"quantitative","scale":{"type":"log","domain":[0.023,82.4],"clamp":true,"nice":false},"axis":{"values":[0.1,0.5,1,2,10],"format":"~g","title":null}},"x2":{"datum":10},"y":{"datum":21.6,"type":"quantitative","scale":{"domain":[-4.39,21.6],"reverse":true,"nice":false,"zero":false},"axis":null}}}
]}
]
}
